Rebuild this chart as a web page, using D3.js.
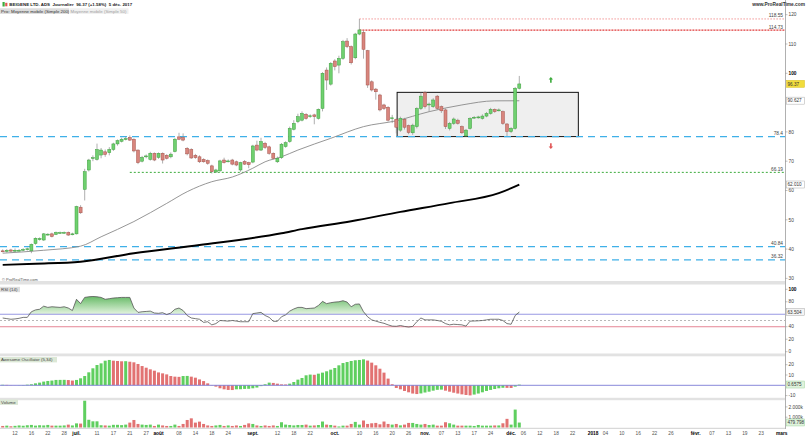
<!DOCTYPE html>
<html><head><meta charset="utf-8">
<script src="https://cdn.jsdelivr.net/npm/d3@7/dist/d3.min.js"></script>
<style>body{margin:0;background:#fff}svg{display:block;font-family:"Liberation Sans",Arial,sans-serif}</style>
</head><body><svg id="c" width="806" height="437"></svg>
<script>
// ---- DATA (daily candles, index 0 = 7 June 2017 ... 126 = 5 Dec 2017) ----
const openP = [39.4,39.2,39.7,39.3,39.5,39.6,39.9,39.4,41.9,43.2, 43.1,45.0,45.2,45.0,45.6,45.6,45.7,45.0,45.2,54.3,
 60.4,67.0,70.9,70.6,72.1,73.2,72.9,74.0,75.9,76.8, 77.6,78.1,77.5,73.8,70.0,71.6,70.6,72.7,71.3,72.7,
 72.0,71.5,73.3,78.3,78.1,74.4,74.0,72.0,71.5,70.6, 70.2,68.4,66.3,66.7,70.4,70.0,70.4,69.8,67.0,69.9,
 69.5,69.7,75.5,73.8,76.1,74.9,72.7,69.8,71.2,75.0, 76.7,80.9,83.5,84.0,86.0,85.3,85.8,84.6,88.0,101.1,
 96.3,104.2,102.8,105.1,111.0,109.1,105.3,113.4,113.9,107.7, 97.1,94.6,92.6,89.2,88.4,84.6,84.3,80.6,84.3,82.1,
 79.7,81.8,88.0,93.4,89.2,88.6,92.2,88.6,87.5,81.2, 82.9,84.0,81.8,78.6,81.2,84.9,84.9,84.6,85.4,86.3,
 87.7,87.4,86.9,82.7,80.1,81.2,94.9];
const highP = [39.9,40.0,40.1,40.2,40.0,40.3,40.5,41.9,44.0,44.0, 45.5,45.4,45.6,46.0,46.0,46.0,46.0,45.6,54.8,55.0,
 67.4,70.8,72.0,76.0,74.5,74.0,74.8,76.3,77.4,78.0, 78.4,78.8,77.8,74.0,71.8,72.3,73.2,73.0,73.0,73.0,
 72.4,73.0,77.9,79.7,79.5,74.8,74.4,72.5,72.0,71.0, 70.6,68.8,67.4,70.5,71.2,70.6,70.8,70.2,69.8,70.4,
 69.8,75.6,77.0,78.0,76.6,75.3,73.0,71.6,76.2,76.8, 81.8,84.0,86.2,87.0,86.4,86.0,86.2,88.0,100.4,102.0,
 103.8,104.8,106.0,111.4,112.0,109.5,113.8,118.55,114.5,108.0, 97.6,95.0,93.0,89.6,88.8,85.8,84.8,85.2,84.8,82.5,
 82.8,88.4,93.4,94.0,90.0,91.5,92.6,89.0,88.0,83.4, 84.9,84.5,82.2,81.0,85.0,85.4,85.5,86.0,86.8,88.2,
 88.0,88.0,87.3,83.0,81.6,95.3,99.1];
const lowP = [38.9,38.8,39.0,39.0,39.2,39.3,39.5,38.6,41.5,42.9, 42.8,44.6,44.0,44.8,45.2,45.3,44.5,44.7,45.0,52.0,
 56.6,66.5,70.0,70.2,71.0,71.5,72.0,73.5,75.3,76.4, 77.1,76.9,73.0,69.0,69.6,71.0,70.2,70.0,70.8,69.2,
 70.6,71.0,73.0,77.2,76.8,72.0,70.8,70.8,69.4,69.5, 68.8,65.8,66.0,66.4,69.2,69.6,68.6,68.3,66.4,68.7,
 67.6,69.3,73.4,73.5,74.2,72.2,70.6,69.4,70.8,74.6, 76.3,80.5,83.0,83.6,84.2,84.8,82.6,84.2,87.0,94.3,
 95.8,101.0,100.0,104.6,108.6,103.0,104.8,113.0,105.0,95.0, 93.8,91.0,87.0,87.5,83.5,83.0,79.5,80.0,80.8,79.2,
 79.0,81.2,87.5,88.0,87.0,88.2,87.5,86.5,81.0,80.5, 82.4,82.5,79.3,78.4,80.8,84.5,84.5,84.2,85.0,85.9,
 86.5,87.0,82.4,78.6,79.6,80.8,94.5];
const closeP = [39.2,39.6,39.3,39.6,39.6,39.9,40.1,41.6,43.7,43.6, 45.2,45.1,44.3,45.7,45.65,45.7,44.8,45.2,54.5,52.4,
 66.4,70.4,71.2,74.0,73.8,72.3,74.0,75.9,77.0,77.5, 77.7,77.2,73.5,69.5,71.3,71.8,72.7,70.4,72.7,70.4,
 71.0,72.4,77.5,77.5,77.2,72.5,71.1,71.2,69.8,69.8, 69.3,66.4,67.0,70.1,69.5,70.1,69.0,68.7,69.5,69.0,
 68.8,75.2,73.8,76.7,74.7,72.7,71.0,71.0,75.8,76.3, 81.2,82.9,85.2,86.3,84.6,85.5,85.2,87.7,100.0,97.7,
 103.4,102.3,105.1,110.8,109.1,103.6,113.4,114.8,108.2,96.0, 94.3,93.7,87.5,88.0,84.0,84.8,81.6,84.6,81.6,79.8,
 82.3,88.0,92.2,88.6,89.5,90.9,88.0,87.2,81.8,82.9, 84.4,82.9,79.7,80.6,84.6,85.0,85.1,85.4,86.3,87.7,
 86.9,87.5,82.9,80.1,81.2,94.9,96.37];
const volume = [150,180,120,160,200,170,220,250,180,220, 200,250,180,180,180,200,280,200,400,380,
 2600,750,600,600,220,200,180,260,260,230, 280,475,730,345,280,250,280,150,280,200,
 150,150,280,150,345,730,890,475,570,345, 200,150,200,250,150,200,150,200,150,250,
 400,345,200,150,200,150,200,150,510,280, 245,200,245,245,280,180,200,240,580,280,
 245,180,100,180,180,345,545,280,680,345, 410,445,310,580,345,280,345,210,280,445,
 445,345,280,345,245,280,180,180,510,410, 280,180,180,180,180,150,245,180,180,180,
 200,200,410,840,280,1740,479.798];
const rsi = [54,53,52,52.5,53.5,55,55,64,67,68, 73,71,72,71.5,71,72,70,66,84,77,
 87,88,88.5,88,87,84,85,86,86.5,87, 87,87,70,63,64,64.5,65,62,61.5,62.5,
 59.5,62,68,70,66,58,54,53,52,47, 48,43,45,50,49.5,49,50,49,48,48,
 48,61,62,63,58,55,48.7,48.7,56,59, 65,68.5,71,71,69,69.5,70,74,80.7,77,
 78.5,79.5,80,81.7,79.5,72,76,76.5,64,56, 51,49,47,45.5,43,41,40.7,42,40.5,39.5,
 40.5,48,54,51,51,51,50,48.7,45,43, 44,43.5,43,41,49,49.2,49.5,50,51,52,
 52,52,50,45,44,58,63.504];
const ao = [0.5,0.4,0.2,0.1,0.2,0.3,0.6,1.0,1.9,2.6, 3.6,4.2,4.6,5.2,5.25,5.3,5.1,4.6,5.2,6.8,
 9.0,12.6,16.5,19.7,21.3,23.9,24.6,23.9,23.6,23.3, 23.4,22.9,22.3,20.7,18.7,17.1,15.5,14.2,12.5,11.6,
 10.6,9.0,8.4,8.2,9.0,9.1,8.4,7.4,5.7,4.1, 1.9,0.3,-1.3,-2.9,-3.9,-4.5,-4.6,-3.9,-3.8,-3.5,
 -3.4,-2.9,-2.2,-0.8,1.0,2.6,2.3,1.6,0.9,0.8, 1.6,3.2,5.5,7.1,9.7,10.4,10.2,11.3,12.3,13.6,
 15.2,16.8,19.4,21.6,22.6,23.6,24.3,24.6,25.2,24.0, 22.0,19.4,16.1,12.3,6.5,1.0,-2.6,-3.9,-5.5,-6.8,
 -8.0,-8.5,-7.9,-7.0,-6.2,-5.2,-4.4,-4.2,-5.2,-6.2, -7.2,-8.0,-8.8,-9.4,-9.8,-9.0,-8.0,-6.8,-5.5,-4.5,
 -3.6,-2.9,-2.4,-2.5,-2.6,-1.3,0.6575];
// moving averages read at sample candles
const ma50Day = [0,10,19,24,32,40,45,51,56,61,64,68,72,80,88,96,104,112,120,126];
const ma50Val = [38.6,39.6,41.0,44.2,49.4,55.6,59.6,63.0,64.6,67.6,69.8,71.5,73.8,77.8,81.8,83.8,86.9,89.2,90.6,90.627];
const ma200Day = [0,8,19,32,48,68,73,85,97,109,121,126];
const ma200Val = [34.6,35.0,35.7,38.6,41.4,45.4,46.8,49.5,52.7,55.7,59.1,62.01];
// horizontal levels
const levelValues = [118.55,114.73,78.4,66.19,40.84,36.32];
const levelLabels = ["118.55","114.73","78.4","66.19","40.84","36.32"];
// x axis ticks (trading-day index)
const tickDay = [3,7,11,15,18,23,27,31,35,38,43,47,51,55,61,67,71,75,81,87,91,95,99,103,107,111,115,119,124,127,131,135,139,144,147,151,155,159,163,169,173,177,181,185,190];
const tickText = ["12","16","22","28","juil.","11","17","21","27","août","08","14","18","24","sept.","12","18","22","oct.","10","16","20","26","nov.","07","13","17","24","déc.","06","12","18","22","2018","04","10","16","22","26","févr.","07","13","19","23","mars"];
const priceTicks = [30,40,50,60,70,80,100,110,120];
const rsiTicks = [0,20,40,80,100];
const aoTicks = [-10,10,20];
const volTicks = [1000,2000];

// ---- DRAW ----
const svg = d3.select("#c");
const R = 785;
const x = d3.scaleLinear().domain([0,126]).range([2.7,519.3]);
const y = d3.scaleLinear().domain([30,120]).range([278.4,14.7]);
const yR = d3.scaleLinear().domain([0,100]).range([351.7,289.3]);
const yA = d3.scaleLinear().domain([-10,20]).range([395.6,364.7]);
const yV = d3.scaleLinear().domain([0,2000]).range([427.5,406.9]);
const idx = d3.range(closeP.length);
const GF="#6fd06f", GS="#3e9e3e", RF="#d8857d", RS="#a5534b";

const defs = svg.append("defs");
function clip(id,y0,y1){defs.append("clipPath").attr("id",id).append("rect").attr("x",0).attr("y",y0).attr("width",R).attr("height",y1-y0);}
clip("cm",0,281); clip("cr",285,353.5); clip("ca",356,398); clip("cv",400,428);
const gr = defs.append("linearGradient").attr("id","rg").attr("gradientUnits","userSpaceOnUse")
  .attr("x1",0).attr("x2",0).attr("y1",yR(90)).attr("y2",yR(60));
gr.append("stop").attr("offset",0).attr("stop-color","#62b862");
gr.append("stop").attr("offset",1).attr("stop-color","#e4f4e0");

// separators
[[281,3.5],[353.5,2.8],[397.8,2.4]].forEach(s=>svg.append("rect").attr("x",0).attr("y",s[0]).attr("width",R).attr("height",s[1]).attr("fill","#e2e2e2"));
svg.append("line").attr("x1",0).attr("x2",R).attr("y1",428.3).attr("y2",428.3).attr("stroke","#d0d0d0");
svg.append("line").attr("x1",R+0.5).attr("x2",R+0.5).attr("y1",0).attr("y2",429).attr("stroke","#b0b0b0");

// ---- main panel ----
const gm = svg.append("g").attr("clip-path","url(#cm)");
gm.append("rect").attr("x",x(96.2)).attr("y",y(93.5)).attr("width",x(140.4)-x(96.2)).attr("height",y(78.4)-y(93.5))
  .attr("fill","#efefef").attr("stroke","#111").attr("stroke-width",1);
const lvStyle = [
 {x0:87,c:"#f08a8a",d:"1.5,1.5",w:0.9},{x0:87,c:"#e03a3a",d:"2,1",w:1.1},
 {x0:0,c:"#3fb0e8",d:"7,5",w:1.3},{x0:31,c:"#3cab3c",d:"2,2",w:1},
 {x0:0,c:"#3fb0e8",d:"7,5",w:1.3},{x0:0,c:"#3fb0e8",d:"7,5",w:1.3}];
levelValues.forEach((v,k)=>{
  const s=lvStyle[k];
  gm.append("line").attr("x1",s.x0?x(s.x0):0).attr("x2",R).attr("y1",y(v)).attr("y2",y(v))
    .attr("stroke",s.c).attr("stroke-width",s.w).attr("stroke-dasharray",s.d);
  svg.append("text").attr("x",783).attr("y",y(v)-1.6).attr("text-anchor","end").attr("font-size",4.8).attr("fill","#444").text(levelLabels[k]);
});
const ln = d3.line().x(d=>x(d[0])).y(d=>y(d[1])).curve(d3.curveMonotoneX);
gm.append("path").attr("d",ln(ma200Day.map((d,k)=>[d,ma200Val[k]]))).attr("fill","none").attr("stroke","#000").attr("stroke-width",1.9);
gm.append("path").attr("d",ln(ma50Day.map((d,k)=>[d,ma50Val[k]]))).attr("fill","none").attr("stroke","#8a8a8a").attr("stroke-width",0.9);
const cg = gm.selectAll("g.c").data(idx).join("g");
cg.append("line").attr("x1",i=>x(i)).attr("x2",i=>x(i)).attr("y1",i=>y(highP[i])).attr("y2",i=>y(lowP[i]))
  .attr("stroke","#8c8c8c").attr("stroke-width",0.7);
cg.append("rect").attr("x",i=>x(i)-1.5).attr("width",3)
  .attr("y",i=>y(Math.max(openP[i],closeP[i])))
  .attr("height",i=>Math.max(0.9,Math.abs(y(openP[i])-y(closeP[i]))))
  .attr("fill",i=>closeP[i]>=openP[i]?GF:RF).attr("stroke",i=>closeP[i]>=openP[i]?GS:RS).attr("stroke-width",0.5);
function arrow(cx,cy,up,col){
  const s = up?-1:1;
  gm.append("path").attr("d",`M${cx},${cy+s*3} L${cx-2.2},${cy+s*0.6} L${cx-0.8},${cy+s*0.6} L${cx-0.8},${cy-s*2.6} L${cx+0.8},${cy-s*2.6} L${cx+0.8},${cy+s*0.6} L${cx+2.2},${cy+s*0.6} Z`).attr("fill",col);
}
arrow(x(133.7),y(97.7),true,"#3cab3c");
arrow(x(133.7),y(75.2),false,"#e05555");

// ---- RSI ----
const grsi = svg.append("g").attr("clip-path","url(#cr)");
grsi.append("path").attr("d",d3.area().x(i=>x(i)).y0(yR(60)).y1(i=>yR(Math.max(60,rsi[i])))(idx)).attr("fill","url(#rg)");
grsi.append("line").attr("x1",0).attr("x2",R).attr("y1",yR(60)).attr("y2",yR(60)).attr("stroke","#8d8de0").attr("stroke-width",0.9);
grsi.append("line").attr("x1",0).attr("x2",R).attr("y1",yR(50)).attr("y2",yR(50)).attr("stroke","#999").attr("stroke-width",0.7).attr("stroke-dasharray","2,2");
grsi.append("line").attr("x1",0).attr("x2",R).attr("y1",yR(40)).attr("y2",yR(40)).attr("stroke","#e2788a").attr("stroke-width",0.9);
grsi.append("path").attr("d",d3.line().x(i=>x(i)).y(i=>yR(rsi[i]))(idx)).attr("fill","none").attr("stroke","#555").attr("stroke-width",0.8);

// ---- Awesome oscillator ----
const gao = svg.append("g").attr("clip-path","url(#ca)");
gao.selectAll("rect").data(idx).join("rect").attr("x",i=>x(i)-1.5).attr("width",3)
  .attr("y",i=>Math.min(yA(0),yA(ao[i]))).attr("height",i=>Math.abs(yA(ao[i])-yA(0)))
  .attr("fill",i=>(i===0||ao[i]>=ao[i-1])?"#5fcf5f":"#e27272");
gao.append("line").attr("x1",0).attr("x2",R).attr("y1",yA(0)).attr("y2",yA(0)).attr("stroke","#7b7bd6").attr("stroke-width",0.9);

// ---- Volume ----
const gv = svg.append("g").attr("clip-path","url(#cv)");
gv.selectAll("rect").data(idx).join("rect").attr("x",i=>x(i)-1.5).attr("width",3)
  .attr("y",i=>yV(volume[i])).attr("height",i=>yV(0)-yV(volume[i]))
  .attr("fill",i=>closeP[i]>=openP[i]?"#5fcf5f":"#e27272");

// ---- right axes ----
function axisLabels(ticks,sc,fmt){
  ticks.forEach(t=>{
    svg.append("line").attr("x1",R).attr("x2",R+2.5).attr("y1",sc(t)).attr("y2",sc(t)).attr("stroke","#999").attr("stroke-width",0.6);
    svg.append("text").attr("x",788.5).attr("y",sc(t)+1.7).attr("font-size",4.8)
      .attr("font-weight",t===100?"bold":"normal").attr("fill",t===100?"#000":"#444").text(fmt(t));
  });
}
axisLabels(priceTicks,y,String);
axisLabels(rsiTicks,yR,String);
axisLabels(aoTicks,yA,String);
axisLabels(volTicks,yV,t=>(t/1000).toFixed(3)+"k");
function tag(v,sc,txt,fill,stroke){
  svg.append("rect").attr("x",786.5).attr("y",sc(v)-3.6).attr("width",18).attr("height",7).attr("fill",fill).attr("stroke",stroke).attr("stroke-width",0.5);
  svg.append("text").attr("x",787.5).attr("y",sc(v)+1.7).attr("font-size",4.6).attr("fill","#333").text(txt);
}
tag(closeP[126],y,"96.37","#f1dc3c","#d8c020");
tag(ma50Val[ma50Val.length-1],y,"90.627","#fff","#aaa");
tag(ma200Val[ma200Val.length-1],y,"62.010","#fff","#aaa");
tag(rsi[126],yR,"63.504","#f4f4f4","#aaa");
tag(ao[126],yA,"0.6575","#dff3dc","#9fd39f");
tag(volume[126],yV,"479.798","#dff3dc","#9fd39f");

// ---- x axis ----
tickDay.forEach((d,k)=>{
  const bold = isNaN(+tickText[k]) || tickText[k]==="2018";
  svg.append("text").attr("x",x(d)).attr("y",435).attr("text-anchor","middle").attr("font-size",4.8)
    .attr("font-weight",bold?"bold":"normal").attr("fill",bold?"#000":"#555").text(tickText[k]);
});

// ---- titles ----
svg.append("rect").attr("x",2.5).attr("y",2).attr("width",2.2).attr("height",4.5).attr("fill","#3cab3c");
svg.append("rect").attr("x",5.2).attr("y",2.8).attr("width",2.2).attr("height",3.5).attr("fill","#e05555");
svg.append("text").attr("x",9.3).attr("y",6.3).attr("font-size",4.4).attr("font-weight","bold").attr("fill","#222")
  .attr("xml:space","preserve").text("BEIGENE LTD. ADS  Journalier  96.37 (+1.58%)  5 déc. 2017");
svg.append("rect").attr("x",0).attr("y",8.3).attr("width",69).attr("height",5.6).attr("fill","#dcdcdc");
svg.append("text").attr("x",1).attr("y",12.6).attr("font-size",4.4).attr("fill","#333").text("Prix: Moyenne mobile (Simple 200)");
svg.append("rect").attr("x",69.5).attr("y",8.3).attr("width",59).attr("height",5.6).attr("fill","#f0f0f0");
svg.append("text").attr("x",70.5).attr("y",12.6).attr("font-size",4.4).attr("fill","#a0a0a0").text("Moyenne mobile (Simple 50)");
svg.append("text").attr("x",805).attr("y",6.3).attr("text-anchor","end").attr("font-size",4.8).attr("font-weight","bold").attr("fill","#333").text("www.ProRealTime.com");
svg.append("text").attr("x",2).attr("y",281.3).attr("font-size",4).attr("fill","#555").text("© ProRealTime.com");
function plabel(yy,w,txt,fill){
  svg.append("rect").attr("x",0).attr("y",yy).attr("width",w).attr("height",5.4).attr("fill",fill);
  svg.append("text").attr("x",1).attr("y",yy+4.2).attr("font-size",4.4).attr("fill","#444").text(txt);
}
plabel(286.8,20,"RSI (14)","#dedede");
plabel(357,57,"Awesome Oscillator (5,34)","#dce8d6");
plabel(399.5,18,"Volume","#dce8d6");
</script></body></html>
